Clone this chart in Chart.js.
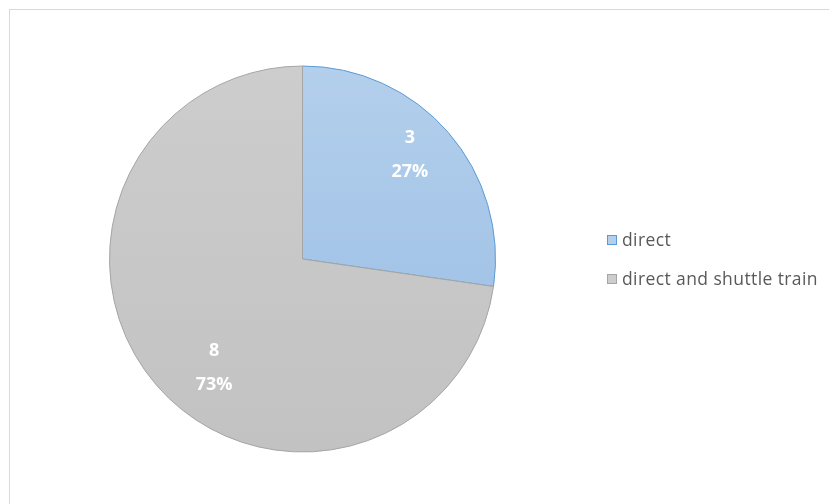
<!DOCTYPE html>
<html>
<head>
<meta charset="utf-8">
<script src="https://cdn.jsdelivr.net/npm/chart.js@4/dist/chart.umd.min.js"></script>
<style>
  html, body { margin: 0; padding: 0; background: #fff; }
  #wrap { position: relative; width: 829px; height: 504px; overflow: hidden; }
  #frame { position: absolute; left: 9px; top: 9px; width: 830px; height: 510px; border: 1px solid #d9d9d9; box-sizing: border-box; }
  canvas { position: absolute; left: 0; top: 0; }
  .leg { position: absolute; left: 607px; height: 20px; line-height: 20px; font-family: "Open Sans", "Noto Sans", sans-serif; font-size: 17.5px; letter-spacing: 0.4px; color: #595959; white-space: nowrap; }
  .leg span.box { position: absolute; left: 0; top: 5px; width: 10px; height: 10px; border: 1px solid; box-sizing: border-box; }
  .leg span.txt { position: absolute; left: 15px; top: -1px; }
</style>
</head>
<body>
<div id="wrap">
  <div id="frame"></div>
  <canvas id="c" width="829" height="504"></canvas>
  <div id="legend"></div>
</div>
<script>
const categories = ["direct", "direct and shuttle train"];
const values = [3, 8];
const percentLabels = ["27%", "73%"];

const fillTop = ["#b3cfec", "#cdcdcd"];
const fillBottom = ["#98bce4", "#c2c2c2"];
const borderCols = ["#5b9bd5", "#a5a5a5"];
const labelOffsets = [[-2, -9], [21, 14]];

function makeFill(ctx) {
  const chart = ctx.chart;
  const area = chart.chartArea;
  if (!area) return fillTop[ctx.dataIndex];
  const g = chart.ctx.createLinearGradient(0, area.top, 0, area.bottom);
  g.addColorStop(0, fillTop[ctx.dataIndex]);
  g.addColorStop(1, fillBottom[ctx.dataIndex]);
  return g;
}

const labelPlugin = {
  id: 'sliceLabels',
  afterDatasetsDraw(chart) {
    const ctx = chart.ctx;
    const meta = chart.getDatasetMeta(0);
    ctx.save();
    ctx.fillStyle = '#ffffff';
    ctx.font = 'bold 18px "Open Sans", "Noto Sans", sans-serif';
    ctx.textAlign = 'center';
    ctx.textBaseline = 'middle';
    meta.data.forEach((arc, i) => {
      const p = arc.getProps(['x', 'y', 'startAngle', 'endAngle', 'outerRadius'], true);
      const mid = (p.startAngle + p.endAngle) / 2;
      const r = p.outerRadius * 0.75;
      const x = p.x + Math.cos(mid) * r + labelOffsets[i][0];
      const y = p.y + Math.sin(mid) * r + labelOffsets[i][1];
      ctx.fillText(String(values[i]), x, y - 17);
      ctx.fillText(percentLabels[i], x, y + 17);
    });
    ctx.restore();
  }
};

new Chart(document.getElementById('c'), {
  type: 'pie',
  data: {
    labels: categories,
    datasets: [{
      data: values,
      backgroundColor: makeFill,
      borderColor: borderCols,
      borderWidth: 1
    }]
  },
  options: {
    responsive: false,
    animation: false,
    layout: { padding: { left: 109, right: 333, top: 65, bottom: 51 } },
    plugins: {
      legend: { display: false },
      tooltip: { enabled: false }
    }
  },
  plugins: [labelPlugin]
});

const legendEl = document.getElementById('legend');
const legendTops = [230, 269];
categories.forEach((name, i) => {
  const d = document.createElement('div');
  d.className = 'leg';
  d.style.top = legendTops[i] + 'px';
  const b = document.createElement('span');
  b.className = 'box';
  b.style.background = fillTop[i];
  b.style.borderColor = borderCols[i];
  d.appendChild(b);
  const t = document.createElement('span');
  t.className = 'txt';
  t.textContent = name;
  d.appendChild(t);
  legendEl.appendChild(d);
});
</script>
</body>
</html>
